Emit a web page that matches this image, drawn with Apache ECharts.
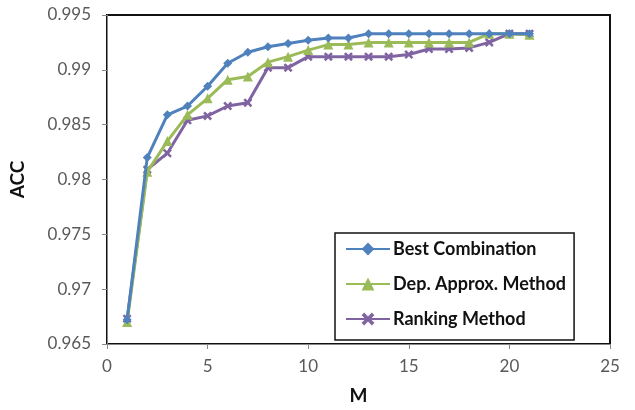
<!DOCTYPE html>
<html>
<head>
<meta charset="utf-8">
<script src="https://cdn.jsdelivr.net/npm/echarts@6/dist/echarts.min.js"></script>
<style>
html,body{margin:0;padding:0;background:#fff;}
#chart{width:635px;height:410px;}
</style>
</head>
<body>
<div id="chart"></div>
<script>
var M = [1,2,3,4,5,6,7,8,9,10,11,12,13,14,15,16,17,18,19,20,21];
var bestCombination = [0.9672,0.9820,0.9859,0.9867,0.9885,0.9906,0.9916,0.9921,0.9924,0.9927,0.9929,0.9929,0.9933,0.9933,0.9933,0.9933,0.9933,0.9933,0.9933,0.9933,0.9933];
var depApprox = [0.9670,0.9807,0.9835,0.9859,0.9874,0.9891,0.9894,0.9907,0.9912,0.9918,0.9923,0.9923,0.9925,0.9925,0.9925,0.9925,0.9925,0.9925,0.9933,0.9933,0.9932];
var ranking = [0.9673,0.9809,0.9824,0.9854,0.9858,0.9867,0.9870,0.9902,0.9902,0.9912,0.9912,0.9912,0.9912,0.9912,0.9914,0.9919,0.9919,0.9920,0.9925,0.9933,0.9933];
var seriesNames = ['Best Combination','Dep. Approx. Method','Ranking Method'];
var xTicks = {min:0, max:25, interval:5};
var yTicks = {min:0.965, max:0.995, interval:0.005};

function pairs(vals){ return M.map(function(m,i){ return [m, vals[i]]; }); }
var xPath = 'path://M0,2 L2,0 L5,3 L8,0 L10,2 L7,5 L10,8 L8,10 L5,7 L2,10 L0,8 L3,5 Z';
var colors = ['#4F81BD','#9BBB59','#8064A2'];
var symbols = ['diamond','triangle',xPath];
var sizes = [9,10,9];
var datas = [bestCombination, depApprox, ranking];

var chart = echarts.init(document.getElementById('chart'));
var font = 'Lato, "Open Sans", sans-serif';
chart.setOption({
  animation:false,
  backgroundColor:'#fff',
  grid:{left:105, right:25, top:15, bottom:57, show:true, borderColor:'#111', borderWidth:2},
  xAxis:{type:'value', min:xTicks.min, max:xTicks.max, interval:xTicks.interval,
    name:'M', nameLocation:'middle', nameGap:42,
    nameTextStyle:{fontFamily:font, fontWeight:'bold', fontSize:19, color:'#111'},
    axisLine:{show:true, onZero:false, lineStyle:{color:'#888', width:1}},
    axisTick:{show:true, inside:false, length:5, lineStyle:{color:'#888'}},
    axisLabel:{margin:14, color:'#595959', fontFamily:font, fontSize:17},
    splitLine:{show:false}},
  yAxis:{type:'value', min:yTicks.min, max:yTicks.max, interval:yTicks.interval,
    name:'ACC', nameLocation:'middle', nameGap:80,
    nameTextStyle:{fontFamily:font, fontWeight:'bold', fontSize:19, color:'#111'},
    axisLine:{show:true, lineStyle:{color:'#888', width:1}},
    axisTick:{show:true, inside:false, length:5, lineStyle:{color:'#888'}},
    axisLabel:{margin:16, color:'#595959', fontFamily:font, fontSize:17,
      formatter:function(v){ return String(+v.toFixed(3)); }},
    splitLine:{show:false}},
  legend:{orient:'vertical', left:335, top:233,
    padding:[7,8,12,10], itemGap:17, itemWidth:44, itemHeight:16,
    backgroundColor:'#fff', borderColor:'#111', borderWidth:1.5,
    textStyle:{fontFamily:font, fontWeight:'bold', fontSize:18, color:'#111', padding:[0,0,0,-2]},
    data:seriesNames},
  series: seriesNames.map(function(n,i){
    return {name:n, type:'line', data:pairs(datas[i]), symbol:symbols[i], symbolSize:sizes[i],
      lineStyle:{color:colors[i], width:3}, itemStyle:{color:colors[i]}, z:3-i};
  })
});
</script>
</body>
</html>
